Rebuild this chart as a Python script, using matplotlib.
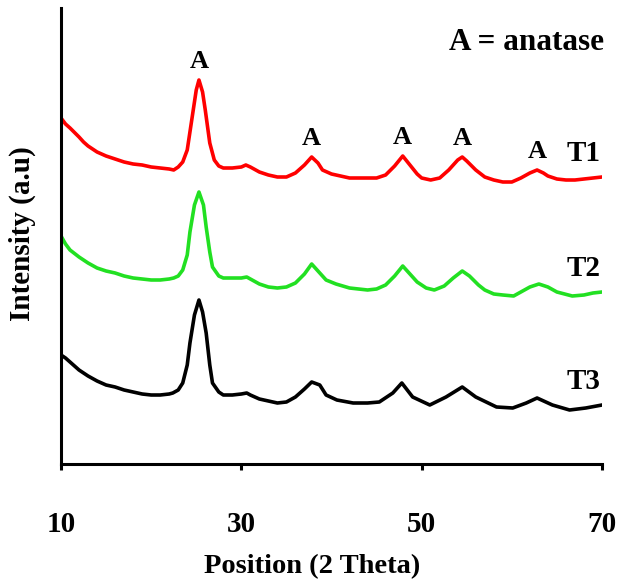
import numpy as np
import matplotlib
matplotlib.use("Agg")
import matplotlib.pyplot as plt

plt.rcParams['font.family'] = ['Liberation Serif', 'DejaVu Serif']
plt.rcParams['font.weight'] = 'bold'

# 2 theta positions and intensities (a.u.)
theta_t1 = [10, 10.5, 11, 12, 12.5, 13, 14, 15, 16, 17, 18, 19, 20, 21, 22, 22.5,
            23, 23.5, 24, 24.5, 25, 25.3, 25.7, 26, 26.5, 27, 27.5, 28, 29, 30,
            30.5, 31, 32, 33, 34, 35, 36, 37, 37.8, 38.5, 39, 40, 41, 42, 43, 44,
            45, 46, 47, 47.9, 48.7, 49.5, 50, 51, 52, 53, 54, 54.5, 55, 56, 57,
            58, 59, 60, 61, 62, 62.8, 63.5, 64, 65, 66, 67, 68, 69, 70]
t1 = [346, 340, 336, 327, 322, 318, 312, 308, 305, 302, 300, 299, 297, 296, 295, 294,
      297, 302, 314, 344, 374, 384, 372, 354, 321, 304, 298, 296, 296, 297,
      299, 297, 292, 289, 287, 287, 291, 299, 307, 301, 294, 290, 288, 286, 286, 286,
      286, 289, 298, 308, 299, 290, 286, 284, 286, 294, 304, 307, 303, 294, 287,
      284, 282, 282, 286, 291, 294, 291, 288, 285, 284, 284, 285, 286, 287]

theta_t2 = [10, 10.5, 11, 12, 12.5, 13, 14, 15, 16, 17, 18, 19, 20, 21, 22, 22.5,
            23, 23.5, 24, 24.3, 24.8, 25.3, 25.8, 26.1, 26.5, 26.8, 27.5, 28, 29, 30,
            30.6, 31, 32, 33, 34, 35, 36, 37, 37.8, 38.5, 39.4, 40.5, 42, 43, 44,
            45, 46, 47, 47.9, 48.7, 49.5, 50.5, 51.4, 52.5, 53.5, 54.5, 55.3, 56.3,
            57, 58, 59, 60.2, 61, 62, 63, 64, 65, 66.7, 68, 69, 70]
t2 = [228, 220, 214, 207, 204, 201, 196, 193, 191, 188, 186, 185, 184, 184, 185, 186,
      188, 194, 209, 232, 259, 272, 259, 237, 212, 197, 188, 186, 186, 186,
      187, 185, 180, 177, 176, 177, 181, 190, 200, 193, 184, 180, 176, 175, 174,
      175, 179, 188, 198, 190, 182, 176, 174, 178, 186, 193, 188, 179,
      174, 170, 169, 168, 172, 177, 180, 177, 172, 168, 169, 171, 172]

theta_t3 = [10, 10.5, 11, 12, 12.5, 13, 14, 15, 16, 17, 18, 19, 20, 21, 22, 22.4,
            23, 23.5, 24, 24.3, 24.8, 25.3, 25.7, 26.1, 26.5, 26.8, 27.5, 28, 29, 30,
            30.6, 31, 32, 33, 34, 35, 36, 37, 37.8, 38.7, 39.4, 40.6, 42.4, 44,
            45.3, 46.8, 47.8, 49, 50.9, 52.7, 54.5, 56, 58.3, 60.1, 61.6, 62.8,
            64.5, 66.4, 68.2, 70]
t3 = [109, 106, 102, 94, 91, 88, 83, 79, 77, 74, 72, 70, 69, 69, 70, 71,
      74, 81, 99, 121, 149, 164, 152, 131, 99, 81, 72, 69, 69, 70,
      71, 69, 65, 63, 61, 62, 67, 75, 82, 79, 69, 64, 61, 61,
      62, 71, 81, 67, 59, 67, 77, 67, 57, 56, 61, 66,
      59, 54, 56, 59]

series = [(theta_t1, t1, '#ff0000', 'T1'),
          (theta_t2, t2, '#22e022', 'T2'),
          (theta_t3, t3, '#000000', 'T3')]

anatase_peaks = [25.3, 37.8, 47.9, 54.5, 62.8]

fig = plt.figure(figsize=(6.2, 5.83), dpi=100)
ax = fig.add_axes([61 / 620, 1 - 464 / 583, 541 / 620, 456 / 583])

for x, y, color, name in series:
    ax.plot(x, y, color=color, linewidth=2.6)
    ax.annotate(name, xy=(70, y[-1]), xytext=(-1, 17), textcoords='offset points',
                ha='right', va='center', fontsize=21, fontweight='bold')

# anatase markers above the T1 peaks
for p in anatase_peaks:
    ax.annotate('A', xy=(p, np.interp(p, theta_t1, t1)), xytext=(0, 13.5),
                textcoords='offset points', ha='center', va='center',
                fontsize=19, fontweight='bold')

ax.text(1.003, 0.925, 'A = anatase', transform=ax.transAxes, ha='right', va='center',
        fontsize=22.5, fontweight='bold')

ax.set_xlim(10, 70)
ax.set_ylim(0, 456)
ax.set_xticks([10, 30, 50, 70])
ax.set_yticks([])
ax.spines['top'].set_visible(False)
ax.spines['right'].set_visible(False)
ax.spines['left'].set_linewidth(2.2)
ax.spines['bottom'].set_linewidth(2.2)
ax.tick_params(axis='x', direction='out', length=4, width=2.2, pad=30, labelsize=21)
for lbl in ax.get_xticklabels():
    lbl.set_fontweight('bold')

ax.set_xlabel('Position (2 Theta)', fontsize=20.5, fontweight='bold')
ax.xaxis.set_label_coords(0.464, -0.198)
ax.set_ylabel('Intensity (a.u)', fontsize=21, fontweight='bold')
ax.yaxis.set_label_coords(-0.046, 0.505)

fig.savefig('out.png', dpi=100)
